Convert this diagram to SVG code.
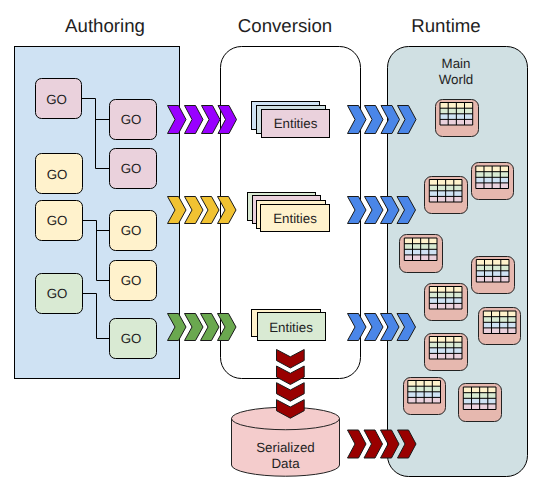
<svg xmlns="http://www.w3.org/2000/svg" width="544" height="492" viewBox="0 0 544 492">
<style>
text{font-family:"Liberation Sans",Arial,sans-serif;font-size:13.330px;fill:#1f1f1f;text-anchor:middle;text-rendering:geometricPrecision}
.title{font-size:18.670px}
.s{stroke:#000;stroke-width:1}
.go{stroke:#000;stroke-width:1}
.pink{fill:#ead1dc}.yellow{fill:#fff2cc}.green{fill:#d9ead3}.blue{fill:#cfe2f3}.teal{fill:#d0e0e3}
.line{fill:none;stroke:#000;stroke-width:1}
.chev{stroke:#1a1a1a;stroke-width:1}
.purple{fill:#9900ff}.gold{fill:#f1c232}.leaf{fill:#6aa84f}.sky{fill:#4a86e8}.red{fill:#990000}
.card{fill:#e6b8af;stroke:#222;stroke-width:1}
</style>
<defs>
<path id="c" d="M0 0H11L18.500 14L11 28H0L7.500 14Z"/>
<path id="cs" d="M0 0H11L18.500 13.500L11 27H0L7.500 13.500Z"/>
<path id="d" d="M0 0L13.850 7.300L27.700 0V11L13.850 18.500L0 11Z"/>
<g id="table">
<rect x="0" y="0" width="32.700" height="5.700" fill="#fff2cc"/>
<rect x="0" y="5.700" width="32.700" height="5.600" fill="#d9ead3"/>
<rect x="0" y="11.300" width="32.700" height="5.600" fill="#cfe2f3"/>
<rect x="0" y="16.900" width="32.700" height="5.600" fill="#ead1dc"/>
<path d="M0 0H32.700V22.500H0ZM0 5.700H32.700M0 11.300H32.700M0 16.900H32.700M8.200 0V22.500M16.350 0V22.500M24.500 0V22.500" fill="none" stroke="#000" stroke-width="1"/>
</g>
</defs>

<text class="title" x="105" y="32">Authoring</text>
<text class="title" x="285" y="32">Conversion</text>
<text class="title" x="446" y="32">Runtime</text>

<g id="authoring"><rect x="14.500" y="46.500" width="165" height="332" class="blue s"/></g>
<g id="conversion"><rect x="220.500" y="46.500" width="140" height="332" rx="21" fill="#fff" class="s"/></g>
<g id="runtime"><rect x="387.500" y="46.500" width="140" height="430" rx="21" class="teal s"/>
<text x="456" y="68">Main</text><text x="456" y="84">World</text></g>

<g id="connectors">
<path class="line" d="M81.500 98.500H95.500V168.500H109.500M95.500 119.500H109.500"/>
<path class="line" d="M82.500 220.500H96.500V280.500H109.500M96.500 230.500H109.500"/>
<path class="line" d="M82.500 293.500H96.500V338.500H109.500"/>
</g>

<g id="go1"><rect x="35.500" y="78.500" width="46" height="40" rx="6" class="pink go"/><text x="56.500" y="104">GO</text></g>
<g id="go2"><rect x="109.500" y="99.500" width="47" height="40" rx="6" class="pink go"/><text x="131" y="124">GO</text></g>
<g id="go3"><rect x="109.500" y="148.500" width="47" height="40" rx="6" class="pink go"/><text x="131" y="173">GO</text></g>
<g id="go4"><rect x="35.500" y="153.500" width="47" height="40" rx="6" class="yellow go"/><text x="57" y="179">GO</text></g>
<g id="go5"><rect x="35.500" y="200.500" width="47" height="40" rx="6" class="yellow go"/><text x="57" y="225">GO</text></g>
<g id="go6"><rect x="109.500" y="210.500" width="47" height="40" rx="6" class="yellow go"/><text x="131" y="235">GO</text></g>
<g id="go7"><rect x="109.500" y="260.500" width="47" height="40" rx="6" class="yellow go"/><text x="131" y="285">GO</text></g>
<g id="go8"><rect x="35.500" y="273.500" width="47" height="40" rx="6" class="green go"/><text x="57" y="298">GO</text></g>
<g id="go9"><rect x="109.500" y="318.500" width="47" height="40" rx="6" class="green go"/><text x="131" y="343">GO</text></g>

<g id="entities-pink">
<rect x="251.500" y="101.500" width="68" height="28" class="blue s"/>
<rect x="256.500" y="105.500" width="69" height="28" class="teal s"/>
<rect x="261.500" y="109.500" width="68" height="28" class="pink s"/>
<text x="295.500" y="128">Entities</text>
</g>
<g id="entities-yellow">
<rect x="247.500" y="192.500" width="68" height="28" class="green s"/>
<rect x="252.500" y="195.500" width="68" height="28" class="pink s"/>
<rect x="256.500" y="200.500" width="69" height="28" class="yellow s"/>
<rect x="260.500" y="204.500" width="69" height="27" class="yellow s"/>
<text x="295" y="223">Entities</text>
</g>
<g id="entities-green">
<rect x="251.500" y="309.500" width="69" height="27" class="yellow s"/>
<rect x="257.500" y="312.500" width="68" height="28" class="green s"/>
<text x="291" y="332">Entities</text>
</g>

<g id="serialized-data">
<path d="M231.500 418.500A53.900 11.200 0 0 1 339.500 418.500V465A53.900 11.200 0 0 1 231.500 465Z" fill="#f4cccc" stroke="#222" stroke-width="1"/>
<path d="M231.500 418.500A53.900 11.200 0 0 0 339.500 418.500" fill="none" stroke="#222" stroke-width="1"/>
<text x="285.500" y="452">Serialized</text><text x="285.500" y="468">Data</text>
</g>

<g id="flows">
<g class="chev purple">
<use href="#c" x="167.500" y="105.500"/><use href="#c" x="184.500" y="105.500"/><use href="#c" x="201.500" y="105.500"/><use href="#c" x="218" y="105.500"/>
</g>
<g class="chev gold">
<use href="#cs" x="167.500" y="196.500"/><use href="#cs" x="184.500" y="196.500"/><use href="#cs" x="200.500" y="196.500"/><use href="#cs" x="217.500" y="196.500"/>
</g>
<g class="chev leaf">
<use href="#cs" x="167.500" y="313.500"/><use href="#cs" x="184.500" y="313.500"/><use href="#cs" x="200.500" y="313.500"/><use href="#cs" x="217.500" y="313.500"/>
</g>
<g class="chev sky">
<use href="#c" x="347.500" y="105.500"/><use href="#c" x="364.500" y="105.500"/><use href="#c" x="381" y="105.500"/><use href="#c" x="397.500" y="105.500"/>
<use href="#cs" x="347.500" y="196.500"/><use href="#cs" x="364.500" y="196.500"/><use href="#cs" x="380.500" y="196.500"/><use href="#cs" x="397" y="196.500"/>
<use href="#cs" x="347.500" y="313.500"/><use href="#cs" x="364.500" y="313.500"/><use href="#cs" x="380.500" y="313.500"/><use href="#cs" x="397" y="313.500"/>
</g>
<g class="chev red">
<use href="#c" x="347.500" y="430"/><use href="#c" x="364" y="430"/><use href="#c" x="380.500" y="430"/><use href="#c" x="397.500" y="430"/>
<use href="#d" x="276.500" y="349.500"/><use href="#d" x="276.500" y="366"/><use href="#d" x="276.500" y="382.700"/><use href="#d" x="276.500" y="399.700"/>
</g>
</g>

<g id="world-a"><rect class="card" x="435.500" y="99.500" width="43" height="37" rx="7"/><use href="#table" x="440" y="102.500"/></g>
<g id="world-b"><rect class="card" x="424.500" y="176.500" width="43" height="37" rx="7"/><use href="#table" x="429.300" y="179.500"/></g>
<g id="world-c"><rect class="card" x="471.500" y="162.500" width="42" height="37" rx="7"/><use href="#table" x="475.800" y="166"/></g>
<g id="world-d"><rect class="card" x="399.500" y="234.500" width="43" height="38" rx="7"/><use href="#table" x="404.300" y="238"/></g>
<g id="world-e"><rect class="card" x="471.500" y="256.500" width="43" height="37" rx="7"/><use href="#table" x="476.300" y="259.500"/></g>
<g id="world-f"><rect class="card" x="424.500" y="283.500" width="43" height="37" rx="7"/><use href="#table" x="429.300" y="286.500"/></g>
<g id="world-g"><rect class="card" x="478.500" y="307.500" width="42" height="37" rx="7"/><use href="#table" x="483.300" y="311"/></g>
<g id="world-h"><rect class="card" x="424.500" y="333.500" width="43" height="37" rx="7"/><use href="#table" x="429.300" y="336.500"/></g>
<g id="world-i"><rect class="card" x="403.500" y="377.500" width="42" height="37" rx="7"/><use href="#table" x="407.800" y="380.500"/></g>
<g id="world-j"><rect class="card" x="458.500" y="383.500" width="43" height="38" rx="7"/><use href="#table" x="463.300" y="387"/></g>
</svg>
